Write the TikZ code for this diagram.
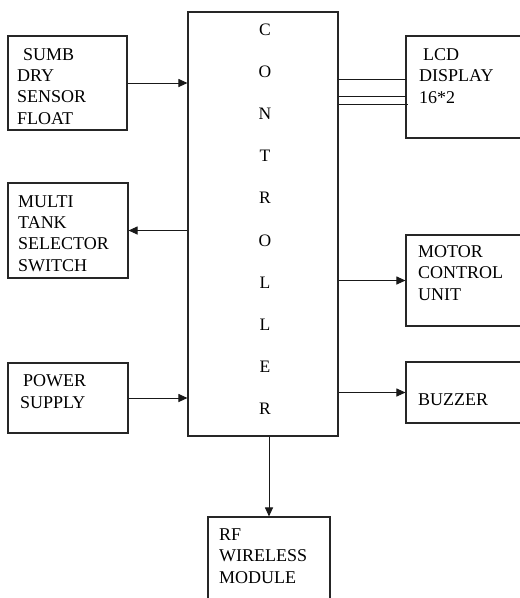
\documentclass[tikz,border=0pt]{standalone}
\usepackage{fontspec}
\setmainfont{Liberation Serif}
\usetikzlibrary{arrows.meta}
\begin{document}
\begin{tikzpicture}[x=1pt,y=-1pt,
  box/.style={draw=black!85, line width=1.1pt, inner sep=0pt},
  lbl/.style={anchor=base west, align=left, inner sep=0pt, font=\fontsize{18}{21.2}\selectfont},
  letter/.style={anchor=base, inner sep=0pt, font=\fontsize{17.5}{21}\selectfont},
  arr/.style={-{Triangle[length=9pt,width=8pt]}, line width=1pt, draw=black!90},
  wire/.style={line width=1pt, draw=black!90}]
\useasboundingbox (0,0) rectangle (520,598);
\clip (0,0) rectangle (520,598);
% boxes
\node[box, minimum width=119pt, minimum height=94pt] (sumb) at (67.5,83) {};
\node[box, minimum width=120pt, minimum height=95pt] (multi) at (68,230.5) {};
\node[box, minimum width=120pt, minimum height=70pt] (power) at (68,398) {};
\node[box, minimum width=150pt, minimum height=424pt] (ctrl) at (263,224) {};
\node[box, minimum width=134pt, minimum height=102pt] (lcd) at (473,87) {};
\node[box, minimum width=134pt, minimum height=91pt] (motor) at (473,280.5) {};
\node[box, minimum width=134pt, minimum height=61pt] (buzzer) at (473,392.5) {};
\node[box, minimum width=122pt, minimum height=103pt] (rf) at (269,568.5) {};
% labels (anchor = baseline of last line)
\node[lbl] (tsumb) at (17,124) {\hspace{6pt}SUMB\\DRY\\SENSOR\\FLOAT};
\node[lbl] (tmulti) at (18,271) {MULTI\\TANK\\SELECTOR\\SWITCH};
\node[lbl] (tpower) at (20,408) {\hspace{3pt}POWER\\SUPPLY};
\node[lbl] (tlcd) at (419,103) {\hspace{4pt}LCD\\DISPLAY\\16*2};
\node[lbl] (tmotor) at (418,300) {MOTOR\\CONTROL\\UNIT};
\node[lbl] (tbuzzer) at (418,405) {BUZZER};
\node[lbl] (trf) at (219,583) {RF\\WIRELESS\\MODULE};
% controller letters
\foreach \ch [count=\i] in {C,O,N,T,R,O,L,L,E,R}
  \node[letter] (c\i) at (265,{35+42.2*(\i-1)}) {\ch};
% connectors
\draw[arr] (sumb.east) -- (sumb.east -| ctrl.west);
\draw[arr] (multi.east -| ctrl.west) -- (multi.east);
\draw[arr] (power.east) -- (power.east -| ctrl.west);
\draw[arr] (motor.west -| ctrl.east) -- (motor.west);
\draw[arr] (buzzer.west -| ctrl.east) -- (buzzer.west);
\draw[arr] (ctrl.south -| rf.north) -- (rf.north);
\coordinate (l1) at (406,79);
\coordinate (l2) at (406,96);
\coordinate (l3) at (408,104);
\draw[wire] (l1 -| ctrl.east) -- (l1);
\draw[wire] (l2 -| ctrl.east) -- (l2);
\draw[wire] (l3 -| ctrl.east) -- (l3);
\end{tikzpicture}
\end{document}
